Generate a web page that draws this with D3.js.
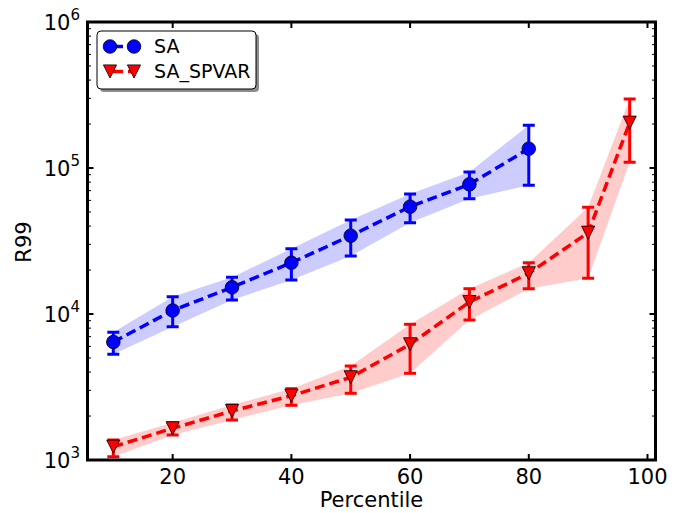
<!DOCTYPE html>
<html>
<head>
<meta charset="utf-8">
<script src="https://cdn.jsdelivr.net/npm/d3@7"></script>
<style>
  html, body { margin: 0; padding: 0; background: #fff; }
  svg { display: block; font-family: "DejaVu Sans", sans-serif; }
</style>
</head>
<body>
<svg id="chart" width="687" height="513"></svg>
<script>
// R99 versus percentile for the two schemes, with spread bands and error bars
const saPercentiles = [10, 20, 30, 40, 50, 60, 70, 80];
const saMedian = [6430, 10570, 15240, 22450, 34370, 54320, 77300, 135600];
const saLow    = [5300, 8185, 12470, 17100, 24960, 42200, 61600, 76200];
const saHigh   = [7490, 13140, 17830, 28000, 44050, 66370, 93900, 196000];

const spvarPercentiles = [10, 20, 30, 40, 50, 60, 70, 80, 90, 97];
const spvarMedian = [1233, 1648, 2166, 2756, 3685, 6200, 12080, 19000, 36040, 204300];
const spvarLow    = [1053, 1483, 1879, 2370, 2863, 3925, 9100, 14900, 17560, 109400];
const spvarHigh   = [1371, 1801, 2381, 3077, 4404, 8500, 14900, 22450, 53800, 297000];

const xTicks = [20, 40, 60, 80, 100];
const yExponents = [3, 4, 5, 6];
const seriesNames = ["SA", "SA_SPVAR"];

const svg = d3.select("#chart");
const plotLeft = 87.5, plotRight = 655.5, plotTop = 22, plotBottom = 460;

const x = d3.scaleLinear().domain([5.65, 101.35]).range([plotLeft, plotRight]);
const y = d3.scaleLog().domain([1e3, 1e6]).range([plotBottom, plotTop]);

function build(xs, med, lo, hi) {
  return xs.map((p, i) => ({ p, med: med[i], lo: lo[i], hi: hi[i] }));
}
const series = [
  { name: seriesNames[0], color: "#0000ff", band: "#0000ff", marker: "circle", rows: build(saPercentiles, saMedian, saLow, saHigh) },
  { name: seriesNames[1], color: "#ff0000", band: "#ff0000", marker: "triangle", rows: build(spvarPercentiles, spvarMedian, spvarLow, spvarHigh) }
];

svg.append("defs").append("clipPath").attr("id", "plotclip")
  .append("rect").attr("x", plotLeft).attr("y", plotTop)
  .attr("width", plotRight - plotLeft).attr("height", plotBottom - plotTop);
const plot = svg.append("g");

// spread bands
const area = d3.area().x(d => x(d.p)).y0(d => y(d.lo)).y1(d => y(d.hi));
series.forEach(s => {
  plot.append("path").datum(s.rows)
    .attr("d", area)
    .attr("fill", s.band).attr("fill-opacity", 0.2)
    .attr("clip-path", "url(#plotclip)");
});

// error bars
series.forEach(s => {
  const g = plot.append("g").attr("stroke", s.color).attr("stroke-width", 3).attr("clip-path", "url(#plotclip)");
  s.rows.forEach(d => {
    g.append("line").attr("x1", x(d.p)).attr("x2", x(d.p)).attr("y1", y(d.lo)).attr("y2", y(d.hi));
    g.append("line").attr("x1", x(d.p) - 6).attr("x2", x(d.p) + 6).attr("y1", y(d.lo)).attr("y2", y(d.lo));
    g.append("line").attr("x1", x(d.p) - 6).attr("x2", x(d.p) + 6).attr("y1", y(d.hi)).attr("y2", y(d.hi));
  });
});

// dashed median lines
const line = d3.line().x(d => x(d.p)).y(d => y(d.med));
series.forEach(s => {
  plot.append("path").datum(s.rows)
    .attr("d", line)
    .attr("fill", "none").attr("stroke", s.color)
    .attr("stroke-width", 3.5).attr("stroke-dasharray", "10,5");
});

function drawMarker(g, type, cx, cy, color) {
  if (type === "circle") {
    g.append("circle").attr("cx", cx).attr("cy", cy).attr("r", 6.8)
      .attr("fill", color).attr("stroke", "#000").attr("stroke-width", 0.8);
  } else {
    const r = 6.6;
    g.append("path")
      .attr("d", `M${cx},${cy + r}L${cx - r},${cy - r}L${cx + r},${cy - r}Z`)
      .attr("fill", color).attr("stroke", "#000").attr("stroke-width", 0.8);
  }
}

series.forEach(s => {
  const g = plot.append("g");
  s.rows.forEach(d => drawMarker(g, s.marker, x(d.p), y(d.med), s.color));
});

// frame and ticks
const axes = svg.append("g");
axes.append("rect").attr("x", plotLeft).attr("y", plotTop)
  .attr("width", plotRight - plotLeft).attr("height", plotBottom - plotTop)
  .attr("fill", "none").attr("stroke", "#000").attr("stroke-width", 3);

xTicks.forEach(t => {
  const px = x(t);
  axes.append("line").attr("x1", px).attr("x2", px).attr("y1", plotBottom).attr("y2", plotBottom - 6)
    .attr("stroke", "#000").attr("stroke-width", 2);
  axes.append("line").attr("x1", px).attr("x2", px).attr("y1", plotTop).attr("y2", plotTop + 6)
    .attr("stroke", "#000").attr("stroke-width", 2);
  axes.append("text").attr("x", px).attr("y", plotBottom + 24)
    .attr("text-anchor", "middle").attr("font-size", 21).attr("fill", "#000").text(t);
});

yExponents.forEach((e, i) => {
  const v = Math.pow(10, e);
  const py = y(v);
  axes.append("line").attr("x1", plotLeft).attr("x2", plotLeft + 6).attr("y1", py).attr("y2", py)
    .attr("stroke", "#000").attr("stroke-width", 2);
  axes.append("line").attr("x1", plotRight).attr("x2", plotRight - 6).attr("y1", py).attr("y2", py)
    .attr("stroke", "#000").attr("stroke-width", 2);
  const label = axes.append("text").attr("x", 80).attr("y", py + 7.5)
    .attr("text-anchor", "end").attr("font-size", 21).attr("fill", "#000");
  label.append("tspan").text("10");
  label.append("tspan").attr("dy", -10).attr("font-size", 15).text(e);
  if (i < yExponents.length - 1) {
    for (let m = 2; m <= 9; m++) {
      const my = y(m * v);
      axes.append("line").attr("x1", plotLeft).attr("x2", plotLeft + 3.5).attr("y1", my).attr("y2", my)
        .attr("stroke", "#000").attr("stroke-width", 1);
      axes.append("line").attr("x1", plotRight).attr("x2", plotRight - 3.5).attr("y1", my).attr("y2", my)
        .attr("stroke", "#000").attr("stroke-width", 1);
    }
  }
});

svg.append("text").attr("x", (plotLeft + plotRight) / 2).attr("y", 507)
  .attr("text-anchor", "middle").attr("font-size", 21).attr("fill", "#000").text("Percentile");
svg.append("text").attr("transform", "translate(31,242) rotate(-90)")
  .attr("text-anchor", "middle").attr("font-size", 21).attr("fill", "#000").text("R99");

// legend
const lg = svg.append("g");
lg.append("rect").attr("x", 100).attr("y", 34).attr("width", 159).attr("height", 58).attr("rx", 4)
  .attr("fill", "#8c8c8c");
lg.append("rect").attr("x", 97).attr("y", 31).attr("width", 159).attr("height", 58).attr("rx", 4)
  .attr("fill", "#fff").attr("stroke", "#000").attr("stroke-width", 1);
series.forEach((s, i) => {
  const cy = 46.5 + i * 25;
  lg.append("line").attr("x1", 110).attr("x2", 134).attr("y1", cy).attr("y2", cy)
    .attr("stroke", s.color).attr("stroke-width", 3.5).attr("stroke-dasharray", "10,5").attr("stroke-dashoffset", -3);
  drawMarker(lg, s.marker, 110, cy, s.color);
  drawMarker(lg, s.marker, 134, cy, s.color);
  lg.append("text").attr("x", 154).attr("y", cy + 6).attr("font-size", 19).attr("fill", "#000").text(s.name);
});
</script>
</body>
</html>
